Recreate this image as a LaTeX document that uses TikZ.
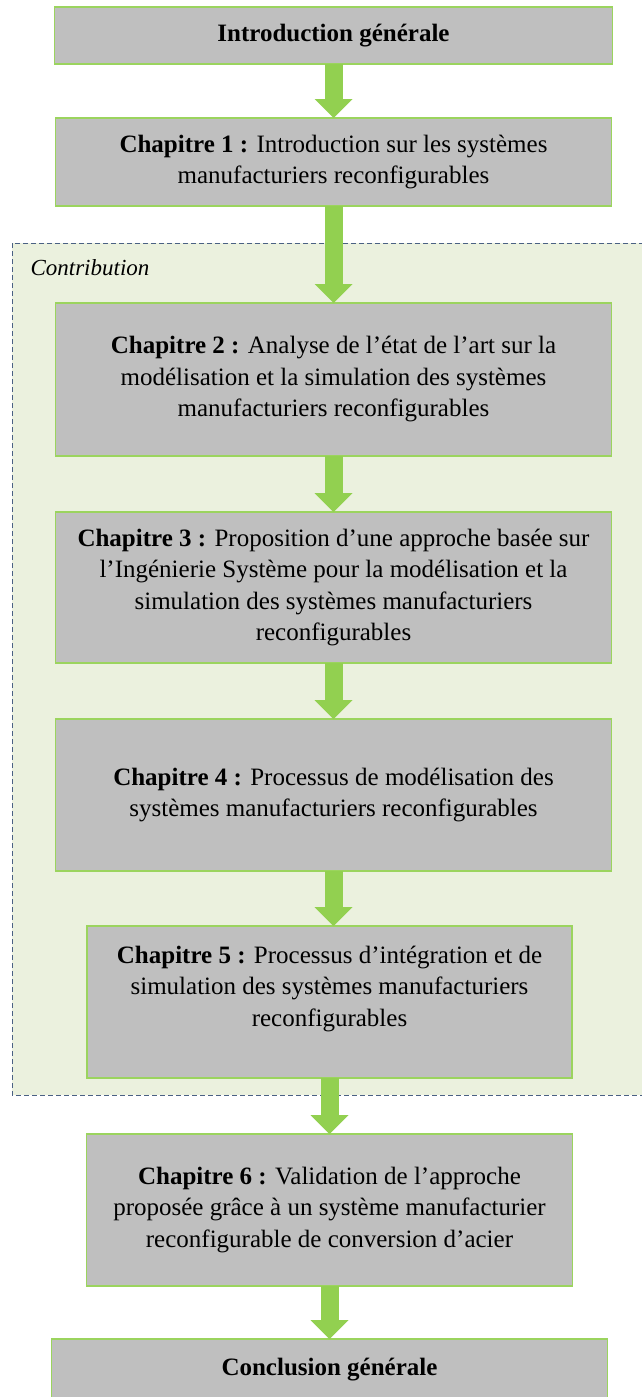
\documentclass[tikz,border=0pt]{standalone}
\usepackage{fontspec}
\setmainfont{Liberation Serif}
\usepackage{xcolor}
\usepackage{tikz}
\usetikzlibrary{arrows.meta, positioning, backgrounds}

\definecolor{boxgray}{HTML}{BFBFBF}
\definecolor{boxgreen}{HTML}{9BD45E}
\definecolor{arrowgreen}{HTML}{92D050}
\definecolor{contribfill}{HTML}{EBF1DE}
\definecolor{contribline}{HTML}{4A6183}

\begin{document}
\begin{tikzpicture}[x=1pt, y=-1pt]
\tikzstyle{chapbox} = [rectangle, draw=boxgreen, fill=boxgray, line width=1.2pt, align=center, inner sep=0pt, outer sep=0pt, font=\fontsize{25}{31.5}\selectfont]
\tikzstyle{flow} = [line width=18pt, draw=arrowgreen, -{Triangle[width=38pt, length=19pt, line width=0pt, fill=arrowgreen]}]

\useasboundingbox (0,0) rectangle (642,1397);

\node (intro) [chapbox, minimum width=558pt, minimum height=57pt] at (333.5,35.5) {\textbf{Introduction générale}};
\node (ch1) [chapbox, minimum width=556pt, minimum height=88pt, below=54pt of intro] {\textbf{Chapitre 1 :} Introduction sur les systèmes\\manufacturiers reconfigurables};
\node (ch2) [chapbox, minimum width=556pt, minimum height=153pt, below=97pt of ch1] {\textbf{Chapitre 2 :} Analyse de l’état de l’art sur la\\modélisation et la simulation des systèmes\\manufacturiers reconfigurables};
\node (ch3) [chapbox, minimum width=556pt, minimum height=151pt, below=56pt of ch2] {\textbf{Chapitre 3 :} Proposition d’une approche basée sur\\l’Ingénierie Système pour la modélisation et la\\simulation des systèmes manufacturiers\\reconfigurables};
\node (ch4) [chapbox, minimum width=556pt, minimum height=152pt, below=56pt of ch3] {\textbf{Chapitre 4 :} Processus de modélisation des\\systèmes manufacturiers reconfigurables};
\node (ch5) [chapbox, minimum width=485pt, minimum height=152pt, below=55pt of ch4, xshift=-4pt] {\textbf{Chapitre 5 :} Processus d’intégration et de\\simulation des systèmes manufacturiers\\reconfigurables\\\mbox{}};
\node (ch6) [chapbox, minimum width=486pt, minimum height=152pt, below=56pt of ch5] {\textbf{Chapitre 6 :} Validation de l’approche\\proposée grâce à un système manufacturier\\reconfigurable de conversion d’acier};
\node (concl) [chapbox, minimum width=556pt, minimum height=62pt, below=53pt of ch6] {\textbf{Conclusion générale}};

\node (contrib) [anchor=west, font=\fontsize{23}{26}\selectfont\itshape] at (27,268) {Contribution};

\begin{scope}[on background layer]
\draw[contribline, fill=contribfill, dash pattern=on 5pt off 3pt, line width=0.8pt] (12,243) rectangle (648,1095);
\end{scope}

\draw[flow] (intro.south) -- (ch1.north);
\draw[flow] (ch1.south) -- (ch2.north);
\draw[flow] (ch2.south) -- (ch3.north);
\draw[flow] (ch3.south) -- (ch4.north);
\draw[flow] (ch4.south) -- (ch4.south |- ch5.north);
\draw[flow] (ch5.south) -- (ch6.north);
\draw[flow] (ch6.south) -- (ch6.south |- concl.north);

\end{tikzpicture}
\end{document}
